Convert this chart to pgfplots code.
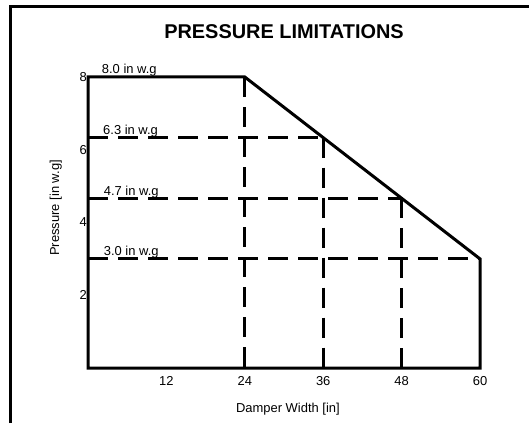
\documentclass[border=0pt]{standalone}
\usepackage{fontspec}
\setmainfont{Liberation Sans}
\usepackage{pgfplots}
\pgfplotsset{compat=1.18}
\begin{document}
\begin{tikzpicture}[x=1bp,y=1bp]
\useasboundingbox (0,0) rectangle (529,423);
\draw[line width=3bp] (10.5,0) -- (10.5,416.5) -- (529,416.5);
\begin{axis}[
  at={(88bp,55bp)}, anchor=south west,
  width=392bp, height=291bp, scale only axis,
  xmin=0, xmax=60, ymin=0, ymax=8,
  axis lines=none, clip=false,
  xtick={12,24,36,48,60}, ytick={2,4,6,8},
  tick style={draw=none},
  /pgf/number format/assume math mode=true,
  ticklabel style={font=\fontsize{13}{15}\selectfont},
  hide axis=false,
  xticklabel style={inner sep=2bp, yshift=-6bp},
  yticklabel style={inner sep=1bp},
  xlabel={Damper Width [in]},
  ylabel={Pressure [in w.g]},
  label style={font=\fontsize{13}{15}\selectfont},
  xlabel style={at={(axis description cs:0.51,-0.14)}, anchor=center},
  ylabel style={at={(axis description cs:-0.082,0.55)}, anchor=center},
  title={\textbf{PRESSURE LIMITATIONS}},
  title style={font=\fontsize{20}{24}\selectfont, at={(axis description cs:0.5,1.112)}, anchor=base},
]
\addplot[black, line width=3bp, line join=miter] coordinates {(0,0) (0,8) (24,8) (60,3) (60,0) (0,0)} -- cycle;
\addplot[black, line width=3bp, dash pattern=on 20bp off 10bp] coordinates {(0,6.333) (36,6.333)};
\addplot[black, line width=3bp, dash pattern=on 20bp off 10bp] coordinates {(0,4.667) (48,4.667)};
\addplot[black, line width=3bp, dash pattern=on 20bp off 10bp] coordinates {(0,3) (60,3)};
\addplot[black, line width=3bp, dash pattern=on 20bp off 10bp] coordinates {(24,8) (24,0)};
\addplot[black, line width=3bp, dash pattern=on 20bp off 10bp] coordinates {(36,6.333) (36,0)};
\addplot[black, line width=3bp, dash pattern=on 20bp off 10bp] coordinates {(48,4.667) (48,0)};
\node[anchor=base west, inner sep=0pt, font=\fontsize{13}{15}\selectfont, yshift=3bp] at (axis cs:2.1,8) {8.0 in w.g};
\node[anchor=base west, inner sep=0pt, font=\fontsize{13}{15}\selectfont, yshift=3bp] at (axis cs:2.3,6.333) {6.3 in w.g};
\node[anchor=base west, inner sep=0pt, font=\fontsize{13}{15}\selectfont, yshift=3bp] at (axis cs:2.4,4.667) {4.7 in w.g};
\node[anchor=base west, inner sep=0pt, font=\fontsize{13}{15}\selectfont, yshift=3bp] at (axis cs:2.4,3) {3.0 in w.g};
\end{axis}
\end{tikzpicture}
\end{document}
